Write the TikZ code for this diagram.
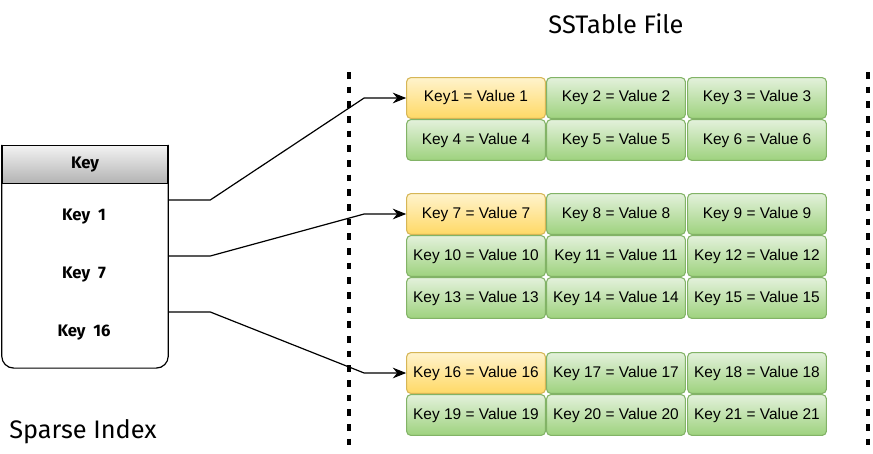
\documentclass[tikz,border=0pt]{standalone}
\usepackage{fontspec}
\setmainfont{Liberation Sans}
\newfontfamily\handfont{Fira Sans}
\usetikzlibrary{arrows.meta,calc,positioning}
\definecolor{gtop}{HTML}{E3F1DB}
\definecolor{gbot}{HTML}{9ED27E}
\definecolor{gline}{HTML}{82B366}
\definecolor{ytop}{HTML}{FFF3CC}
\definecolor{ybot}{HTML}{FFD966}
\definecolor{yline}{HTML}{D6B656}
\tikzset{
  cell/.style={rectangle, rounded corners=3pt, minimum width=104pt, minimum height=30.5pt,
    inner sep=0pt, font=\fontsize{11.6pt}{13pt}\selectfont, line width=0.8pt},
  gcell/.style={cell, draw=gline, top color=gtop, bottom color=gbot},
  ycell/.style={cell, draw=yline, top color=ytop, bottom color=ybot},
  idx/.style={font=\handfont\bfseries\fontsize{12.5pt}{14pt}\selectfont, inner sep=0pt},
  sep/.style={line width=3.2pt, dash pattern=on 5pt off 6pt},
  link/.style={line width=0.9pt, -{Stealth[length=10pt,width=8pt]}},
  title/.style={font=\handfont\fontsize{19pt}{22pt}\selectfont, inner sep=0pt}
}
\begin{document}
\begin{tikzpicture}[x=0.75pt,y=-0.75pt]
\useasboundingbox (0,0) rectangle (873,453);
% title labels
\node[title] (ttl) at (616,24) {SSTable File};
\node[title, anchor=west] (spi) at (9,432) {Sparse Index};
% separators
\coordinate (s1a) at (349,72); \coordinate (s1b) at (349,452);
\coordinate (s2a) at (868,72); \coordinate (s2b) at (868,452);
\draw[sep] (s1a) -- (s1b);
\draw[sep] (s2a) -- (s2b);
% sparse index table
\node[rectangle, minimum width=124.5pt, minimum height=167pt, inner sep=0pt] (tbl) at (85,256.5) {};
\draw[line width=0.9pt, rounded corners=9pt] (tbl.north west) -- (tbl.south west) -- (tbl.south east) -- (tbl.north east);
\node[rectangle, draw, line width=0.9pt, minimum width=124.5pt, minimum height=28.5pt, inner sep=0pt,
  top color=white!95!black, bottom color=white!70!black, anchor=north] (hdr) at (tbl.north) {};
\node[idx] (hk) at (hdr.center) {Key};
\node[idx] (k1) at (84,217) {Key\ \ 1};
\node[idx] (k7) at (84,275) {Key\ \ 7};
\node[idx] (k16) at (84,333) {Key\ \ 16};
% group 1
\node[ycell] (c1)  at (476,98) {Key1 = Value 1};
\node[gcell] (c2)  at (616,98) {Key 2 = Value 2};
\node[gcell] (c3)  at (757,98) {Key 3 = Value 3};
\node[gcell] (c4)  at (476,140) {Key 4 = Value 4};
\node[gcell] (c5)  at (616,140) {Key 5 = Value 5};
\node[gcell] (c6)  at (757,140) {Key 6 = Value 6};
% group 2
\node[ycell] (c7)  at (476,214) {Key 7 = Value 7};
\node[gcell] (c8)  at (616,214) {Key 8 = Value 8};
\node[gcell] (c9)  at (757,214) {Key 9 = Value 9};
\node[gcell] (c10) at (476,256) {Key 10 = Value 10};
\node[gcell] (c11) at (616,256) {Key 11 = Value 11};
\node[gcell] (c12) at (757,256) {Key 12 = Value 12};
\node[gcell] (c13) at (476,298) {Key 13 = Value 13};
\node[gcell] (c14) at (616,298) {Key 14 = Value 14};
\node[gcell] (c15) at (757,298) {Key 15 = Value 15};
% group 3
\node[ycell] (c16) at (476,373) {Key 16 = Value 16};
\node[gcell] (c17) at (616,373) {Key 17 = Value 17};
\node[gcell] (c18) at (757,373) {Key 18 = Value 18};
\node[gcell] (c19) at (476,415) {Key 19 = Value 19};
\node[gcell] (c20) at (616,415) {Key 20 = Value 20};
\node[gcell] (c21) at (757,415) {Key 21 = Value 21};
% links
\draw[link] ($(tbl.east |- k1)+(0,-17)$) -- ++(42,0) -- ($(c1.west)+(-42,0)$) -- (c1.west);
\draw[link] ($(tbl.east |- k7)+(0,-19)$) -- ++(42,0) -- ($(c7.west)+(-42,0)$) -- (c7.west);
\draw[link] ($(tbl.east |- k16)+(0,-21)$) -- ++(42,0) -- ($(c16.west)+(-42,0)$) -- (c16.west);
\end{tikzpicture}
\end{document}
